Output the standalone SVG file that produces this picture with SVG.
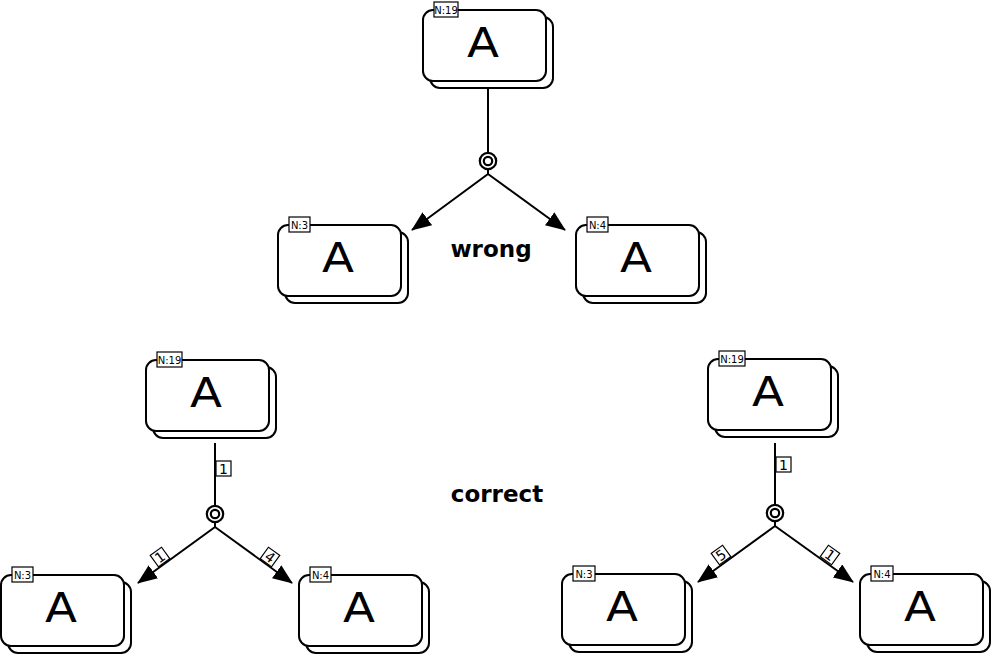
<svg xmlns="http://www.w3.org/2000/svg" width="992" height="655" viewBox="0 0 992 655">
<defs>
<style>
.bk{fill:#fff;stroke:#000;stroke-width:2}
.fr{fill:#fff;stroke:#000;stroke-width:2}
.nb{fill:#fff;stroke:#000;stroke-width:1.2}
.nt{font-family:"DejaVu Sans",sans-serif;font-size:10px;text-anchor:middle}
.big{font-family:"DejaVu Sans",sans-serif;font-size:40px;text-anchor:middle}
.cap{font-family:"DejaVu Sans",sans-serif;font-size:23px;font-weight:bold;text-anchor:middle}
.ln{fill:none;stroke:#000;stroke-width:2}
.lb{fill:#fff;stroke:#000;stroke-width:1.2}
.lt{font-family:"DejaVu Sans",sans-serif;font-size:14px;text-anchor:middle}
.ring{fill:#fff;stroke:#000;stroke-width:2.2}
</style>
<marker id="arr" markerUnits="userSpaceOnUse" markerWidth="20" markerHeight="16" refX="19" refY="8" orient="auto" viewBox="0 0 20 16">
<path d="M0,0 L20,8 L0,16 z" fill="#000"/>
</marker>
<g id="nodeShape">
<rect class="bk" x="7" y="7" width="123" height="71" rx="10"/>
<rect class="fr" x="0" y="0" width="123" height="71" rx="10"/>
<text class="big" x="60" y="47" textLength="32" lengthAdjust="spacingAndGlyphs">A</text>
</g>
</defs>

<g id="connectors">
<!-- wrong -->
<line class="ln" x1="488" y1="89" x2="488" y2="153"/>
<circle class="ring" cx="488" cy="161" r="8.2"/>
<circle class="ring" cx="488" cy="161" r="4.2"/>
<path class="ln" d="M488,169 L488,174 L412,230" marker-end="url(#arr)"/>
<path class="ln" d="M488,174 L565,230" marker-end="url(#arr)"/>
<!-- correct left -->
<line class="ln" x1="215" y1="443" x2="215" y2="506"/>
<circle class="ring" cx="215" cy="514" r="8.2"/>
<circle class="ring" cx="215" cy="514" r="4.2"/>
<path class="ln" d="M215,522 L215,527 L138,583" marker-end="url(#arr)"/>
<path class="ln" d="M215,527 L292,583" marker-end="url(#arr)"/>
<rect class="lb" x="216" y="461" width="15" height="15"/>
<text class="lt" x="223.5" y="473.5">1</text>
<g transform="translate(160,557) rotate(-36)"><rect class="lb" x="-7" y="-7" width="14" height="14"/><text class="lt" x="0" y="5">1</text></g>
<g transform="translate(270,557) rotate(36)"><rect class="lb" x="-7" y="-7" width="14" height="14"/><text class="lt" x="0" y="5">4</text></g>
<!-- correct right -->
<line class="ln" x1="775" y1="443" x2="775" y2="505"/>
<circle class="ring" cx="775" cy="513" r="8.2"/>
<circle class="ring" cx="775" cy="513" r="4.2"/>
<path class="ln" d="M775,521 L775,526 L698,582" marker-end="url(#arr)"/>
<path class="ln" d="M775,526 L853,582" marker-end="url(#arr)"/>
<rect class="lb" x="776" y="457" width="15" height="15"/>
<text class="lt" x="783.5" y="469.5">1</text>
<g transform="translate(721,555) rotate(-36)"><rect class="lb" x="-7" y="-7" width="14" height="14"/><text class="lt" x="0" y="5">5</text></g>
<g transform="translate(830,555) rotate(36)"><rect class="lb" x="-7" y="-7" width="14" height="14"/><text class="lt" x="0" y="5">1</text></g>
</g>

<g id="n_top" transform="translate(423,10)">
<use href="#nodeShape"/>
<rect class="nb" x="11" y="-8" width="24" height="15"/><text class="nt" x="23" y="3.5">N:19</text>
</g>
<g id="n_w3" transform="translate(278,225)">
<use href="#nodeShape"/>
<rect class="nb" x="11" y="-8" width="21" height="15"/><text class="nt" x="21.5" y="3.5">N:3</text>
</g>
<g id="n_w4" transform="translate(576,225)">
<use href="#nodeShape"/>
<rect class="nb" x="11" y="-8" width="21" height="15"/><text class="nt" x="21.5" y="3.5">N:4</text>
</g>
<g id="n_c19" transform="translate(146,360)">
<use href="#nodeShape"/>
<rect class="nb" x="11" y="-8" width="25" height="15"/><text class="nt" x="23.5" y="3.5">N:19</text>
</g>
<g id="n_c3" transform="translate(1,575)">
<use href="#nodeShape"/>
<rect class="nb" x="11" y="-8" width="21" height="15"/><text class="nt" x="21.5" y="3.5">N:3</text>
</g>
<g id="n_c4" transform="translate(299,575)">
<use href="#nodeShape"/>
<rect class="nb" x="11" y="-8" width="21" height="15"/><text class="nt" x="21.5" y="3.5">N:4</text>
</g>
<g id="n_r19" transform="translate(708,359)">
<use href="#nodeShape"/>
<rect class="nb" x="11" y="-8" width="26" height="15"/><text class="nt" x="24" y="3.5">N:19</text>
</g>
<g id="n_r3" transform="translate(562,574)">
<use href="#nodeShape"/>
<rect class="nb" x="11" y="-8" width="22" height="15"/><text class="nt" x="22" y="3.5">N:3</text>
</g>
<g id="n_r4" transform="translate(860,574)">
<use href="#nodeShape"/>
<rect class="nb" x="11" y="-8" width="22" height="15"/><text class="nt" x="22" y="3.5">N:4</text>
</g>

<text class="cap" x="491" y="257">wrong</text>
<text class="cap" x="497" y="502">correct</text>
</svg>
